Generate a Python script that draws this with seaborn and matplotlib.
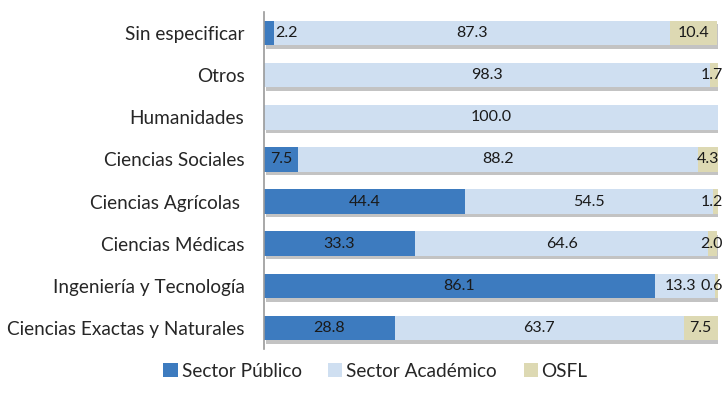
import numpy as np
import pandas as pd
import matplotlib
matplotlib.use("Agg")
import matplotlib.pyplot as plt
import matplotlib.patheffects as pe
from matplotlib.patches import Patch
import seaborn as sns

# Data
categorias = ["Sin especificar", "Otros", "Humanidades", "Ciencias Sociales",
              "Ciencias Agrícolas ", "Ciencias Médicas", "Ingeniería y Tecnología",
              "Ciencias Exactas y Naturales"]
sector_publico = [2.2, 0.0, 0.0, 7.5, 44.4, 33.3, 86.1, 28.8]
sector_academico = [87.3, 98.3, 100.0, 88.2, 54.5, 64.6, 13.3, 63.7]
osfl = [10.4, 1.7, 0.0, 4.3, 1.2, 2.0, 0.6, 7.5]

series_names = ["Sector Público", "Sector Académico", "OSFL"]
colors = ["#3d7bbf", "#cfdff1", "#ddd9b3"]

df = pd.DataFrame({"categoria": categorias,
                   "Sector Público": sector_publico,
                   "Sector Académico": sector_academico,
                   "OSFL": osfl})

sns.set_style("white")
plt.rcParams["font.family"] = ["Lato", "DejaVu Sans"]

fig = plt.figure(figsize=(7.25, 4.07), dpi=100)
ax = fig.add_axes([0.364, 0.1425, 0.626, 0.828])

# stacked bars: draw cumulative totals back to front
cum = df[series_names].cumsum(axis=1)
shadow = [pe.SimplePatchShadow(offset=(1.5, -2.5), shadow_rgbFace="#555555", alpha=0.35), pe.Normal()]
for name, color in reversed(list(zip(series_names, colors))):
    sns.barplot(x=cum[name], y=df["categoria"], orient="h", color=color,
                width=0.58, ax=ax, saturation=1, linewidth=0)

for i, p in enumerate(ax.patches):
    if i < len(categorias):
        p.set_path_effects(shadow)

# value labels centred in each segment (tiny ones nudged like in the original)
for i, row in df.iterrows():
    left = 0.0
    for name in series_names:
        v = row[name]
        if v > 0:
            xc, ha = left + v / 2, "center"
            if name == "Sector Público" and v < 4:
                xc = left + v + 2.7
            if name == "Sector Académico" and 0 < row["OSFL"] < 1:
                xc -= 0.9
            if name == "OSFL" and v < 2.5:
                xc, ha = 101.2, "right"
            ax.text(xc, i, f"{v:.1f}", ha=ha, va="center",
                    fontsize=11.5, color="#1a1a1a", clip_on=False)
        left += v

ax.set_xlim(0, 100)
ax.set_ylim(7.5, -0.5)
ax.set_xlabel("")
ax.set_ylabel("")
ax.set_xticks([])
ax.tick_params(axis="y", length=0, pad=14, labelsize=13.7)
for s in ["top", "right", "bottom"]:
    ax.spines[s].set_visible(False)
ax.spines["left"].set_color("#9a9a9a")
ax.spines["left"].set_linewidth(1.2)

handles = [Patch(facecolor=c, edgecolor="none", label=n) for n, c in zip(series_names, colors)]
fig.legend(handles=handles, loc="lower center", bbox_to_anchor=(0.518, 0.025), ncol=3,
           frameon=False, fontsize=13.7, handlelength=0.75, handleheight=0.75,
           handletextpad=0.2, columnspacing=1.4)

fig.savefig("out.png", dpi=100)
